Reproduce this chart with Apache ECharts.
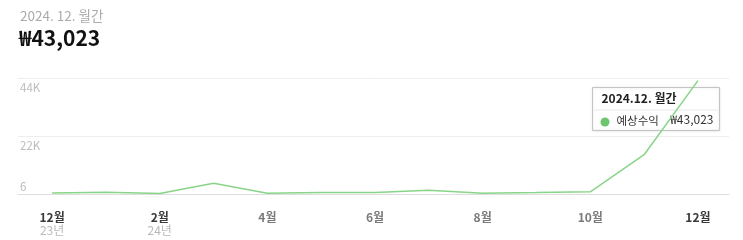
<!DOCTYPE html>
<html><head><meta charset="utf-8">
<script src="https://cdn.jsdelivr.net/npm/echarts@6/dist/echarts.min.js"></script>
<style>html,body{margin:0;padding:0;background:#fff;}#c{width:743px;height:240px;}</style>
</head><body><div id="c"></div>
<script>
// Data
const monthLabels = ['12월','1월','2월','3월','4월','5월','6월','7월','8월','9월','10월','11월','12월'];
const yearLabels  = ['23년','','24년','','','','','','','','','',''];
const revenue     = [400, 650, 150, 4100, 300, 600, 550, 1400, 300, 550, 850, 14900, 43023];
const yTicks      = [0, 22000, 44000];
const yTickLabels = ['6', '22K', '44K'];
const labelIdx    = [0, 2, 4, 6, 8, 10, 12];
const headerPeriod = '2024. 12. 월간';
const headerValue  = '₩43,023';
const tipTitle     = '2024.12. 월간';
const seriesName   = '예상수익';

const FONT = '"Noto Sans CJK KR", "Noto Sans", sans-serif';
const chart = echarts.init(document.getElementById('c'), null, {renderer: 'canvas'});
const option = {
  animation: false,
  textStyle: {fontFamily: FONT},
  grid: {left: 18, right: 14, top: 78, bottom: 46, containLabel: false},
  xAxis: {
    type: 'value', min: -0.633, max: 12.577,
    offset: 11,
    axisLine: {show: true, lineStyle: {color: '#dedede', width: 1}},
    axisTick: {show: false},
    splitLine: {show: false},
    axisLabel: {
      customValues: labelIdx,
      margin: 6,
      fontFamily: FONT,
      formatter: function (v) {
        const i = Math.round(v);
        const dark = (i === 0 || i === 2 || i === 12);
        let s = dark ? '{d|' + monthLabels[i] + '}' : '{m|' + monthLabels[i] + '}';
        if (yearLabels[i]) s += '\n{y|' + yearLabels[i] + '}';
        return s;
      },
      rich: {
        d: {fontSize: 12, fontWeight: 'bold', color: '#3a3a3a', lineHeight: 13, fontFamily: FONT},
        m: {fontSize: 12, fontWeight: 'bold', color: '#7a7a7a', lineHeight: 13, fontFamily: FONT},
        y: {fontSize: 12, color: '#b8b8b8', lineHeight: 13, fontFamily: FONT}
      }
    }
  },
  yAxis: {
    type: 'value', min: 0, max: 44000, interval: 22000,
    axisLine: {show: false}, axisTick: {show: false},
    splitLine: {show: true, lineStyle: {color: '#eeeeee', width: 1}},
    axisLabel: {
      inside: true, margin: 2,
      formatter: function (v) {
        const k = yTicks.indexOf(v);
        if (k < 0) return '';
        return (v === 0 ? '{b|' : '{a|') + yTickLabels[k] + '}';
      },
      rich: {
        a: {fontSize: 11.5, color: '#bcbcbc', padding: [19, 0, 0, 0], fontFamily: FONT},
        b: {fontSize: 11.5, color: '#bcbcbc', padding: [0, 0, 14, 0], fontFamily: FONT}
      }
    }
  },
  series: [{
    type: 'line', name: seriesName,
    data: revenue.map((v, i) => [i, v]),
    showSymbol: false, smooth: false,
    lineStyle: {color: '#88d488', width: 1.5},
    itemStyle: {color: '#6cc76c'}
  }],
  graphic: [
    {type: 'text', left: 20, top: 9, style: {text: headerPeriod, fontSize: 13.5, fill: '#ababab', fontFamily: FONT}},
    {type: 'text', left: 19, top: 28, style: {text: headerValue, fontSize: 21, fontWeight: 'bold', fill: '#111', fontFamily: FONT}},
    {type: 'group', left: 591, top: 87, children: [
      {type: 'rect', shape: {x: 0, y: 0, width: 127, height: 43}, style: {fill: '#fff', stroke: '#c4c4c4', lineWidth: 1, shadowBlur: 3, shadowColor: 'rgba(0,0,0,0.12)'}},
      {type: 'text', x: 9, y: 5, style: {text: tipTitle, fontSize: 12, fontWeight: 'bold', fill: '#222', fontFamily: FONT}},
      {type: 'line', shape: {x1: 1, y1: 22.5, x2: 126, y2: 22.5}, style: {stroke: '#eaeaea', lineWidth: 1}},
      {type: 'circle', shape: {cx: 12.5, cy: 34.5, r: 4.5}, style: {fill: '#6cc76c'}},
      {type: 'text', x: 24, y: 27, style: {text: seriesName, fontSize: 11.5, fill: '#333', fontFamily: FONT}},
      {type: 'text', x: 121, y: 26, style: {text: headerValue, fontSize: 12, fill: '#333', align: 'right', fontFamily: FONT}}
    ]}
  ]
};
chart.setOption(option);
</script></body></html>
